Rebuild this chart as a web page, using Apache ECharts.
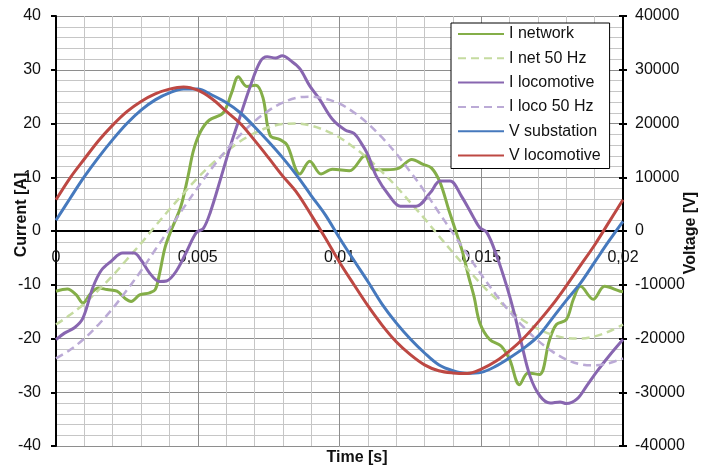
<!DOCTYPE html>
<html>
<head>
<meta charset="utf-8">
<script src="https://cdn.jsdelivr.net/npm/echarts@6/dist/echarts.min.js"></script>
<style>
  html, body { margin: 0; padding: 0; background: #fff; }
  #chart { width: 710px; height: 470px; }
</style>
</head>
<body>
<div id="chart"></div>
<script>
// Time base (ms) shared by the voltage traces and the 50 Hz fundamentals
const tGridMs = [0, 0.5, 1, 1.5, 2, 2.5, 3, 3.5, 4, 4.5, 5, 5.5, 6, 6.5, 7, 7.5, 8, 8.5, 9, 9.5,
  10, 10.5, 11, 11.5, 12, 12.5, 13, 13.5, 14, 14.5, 15, 15.5, 16, 16.5, 17, 17.5, 18, 18.5, 19, 19.5, 20];

// Substation voltage [V]
const vSubstation = [2000, 6100, 10100, 13700, 17000, 20000, 22500, 24400, 25700, 26400,
  26400, 25300, 23900, 22000, 19400, 16600, 13600, 10300, 6600, 3000,
  -1300, -5400, -9400, -13600, -17100, -20100, -22700, -24900, -26000, -26500,
  -26300, -25200, -23600, -21800, -19600, -16300, -12900, -9700, -5800, -1900, 1800];

// Locomotive voltage [V]
const vLocomotive = [5800, 9900, 13400, 16800, 19700, 22200, 24100, 25500, 26400, 26800,
  26200, 24600, 22300, 20000, 16900, 13600, 10200, 7100, 3000, -1300,
  -5800, -9900, -13900, -17500, -20600, -23000, -24900, -26000, -26400, -26500,
  -25700, -24300, -22300, -19900, -17000, -13800, -10200, -6400, -2600, 1600, 5800];

// 50 Hz fundamental of the network current [A]
const iNet50 = [-17.4, -15.6, -13.5, -11.0, -8.3, -5.3, -2.3, 0.9, 4.0, 7.0,
  9.9, 12.5, 14.7, 16.7, 18.2, 19.3, 19.9, 20.0, 19.6, 18.7,
  17.4, 15.6, 13.5, 11.0, 8.3, 5.3, 2.3, -0.9, -4.0, -7.0,
  -9.9, -12.5, -14.7, -16.7, -18.2, -19.3, -19.9, -20.0, -19.6, -18.7, -17.4];

// 50 Hz fundamental of the locomotive current [A]
const iLoco50 = [-23.7, -22.1, -20.0, -17.4, -14.4, -11.0, -7.4, -3.5, 0.4, 4.3,
  8.1, 11.7, 15.0, 17.9, 20.4, 22.4, 23.9, 24.8, 25.0, 24.6,
  23.7, 22.1, 20.0, 17.4, 14.4, 11.0, 7.4, 3.5, -0.4, -4.3,
  -8.1, -11.7, -15.0, -17.9, -20.4, -22.4, -23.9, -24.8, -25.0, -24.6, -23.7];

// Network current [A], sampled where the waveform bends
const tNetworkMs = [0, 0.4, 0.7, 0.95, 1.2, 1.5, 1.8, 2.15, 2.45, 2.65,
  2.95, 3.3, 3.5, 3.65, 3.85, 4.1, 4.4, 4.65, 4.85, 5.1,
  5.4, 5.9, 6.2, 6.43, 6.73, 7.05, 7.3, 7.55, 7.9, 8.15,
  8.6, 8.95, 9.35, 9.75, 10.35, 10.9, 11.2, 11.65, 12.1, 12.55,
  12.95, 13.25, 13.55, 13.85, 14.1, 14.35, 14.55, 14.75, 14.95, 15.3,
  15.7, 16.0, 16.35, 16.65, 17.05, 17.4, 17.65, 18.0, 18.25, 18.5,
  18.95, 19.35, 19.9, 20];
const iNetwork = [-11.2, -10.8, -11.8, -13.4, -11.8, -10.6, -10.9, -11.2, -12.6, -13.1,
  -11.9, -11.5, -10.9, -8.0, -3.0, 0.6, 4.5, 10.0, 15.0, 18.5,
  20.6, 22.0, 25.8, 28.7, 26.9, 27.1, 24.8, 17.8, 17.0, 16.0,
  10.6, 13.0, 10.6, 11.5, 11.2, 14.0, 11.4, 11.4, 11.7, 13.3,
  12.4, 11.7, 9.0, 4.0, 0.0, -4.1, -8.4, -12.3, -17.1, -20.2,
  -21.4, -23.9, -28.6, -26.4, -26.7, -20.4, -17.4, -16.5, -12.7, -10.3,
  -12.7, -10.3, -11.2, -11.3];

// Locomotive current [A]
const tLocoMs = [0, 0.3, 0.65, 0.95, 1.3, 1.6, 1.95, 2.35, 2.75, 3.0,
  3.3, 3.65, 3.9, 4.25, 4.6, 4.95, 5.2, 5.45, 5.8, 6.15,
  6.5, 6.85, 7.2, 7.45, 7.75, 7.98, 8.3, 8.6, 8.95, 9.3,
  9.75, 10.2, 10.5, 10.75, 11.0, 11.3, 11.75, 12.15, 12.7, 13.2,
  13.55, 13.9, 14.3, 14.7, 14.95, 15.2, 15.55, 15.9, 16.15, 16.4,
  16.72, 17.07, 17.43, 17.78, 18.0, 18.37, 18.72, 19.07, 19.5, 20];
const iLocomotive = [-20.2, -19.0, -18.0, -16.2, -10.5, -7.3, -5.6, -4.1, -4.1, -5.4,
  -7.8, -9.4, -9.3, -7.4, -3.9, -0.3, 0.5, 3.6, 9.6, 15.8,
  21.4, 26.9, 31.5, 32.4, 32.2, 32.6, 31.6, 30.2, 27.0, 24.5,
  20.8, 18.8, 18.2, 16.5, 14.2, 10.2, 6.6, 4.6, 4.6, 7.1,
  9.3, 9.3, 6.5, 2.8, 0.6, -0.3, -4.7, -10.3, -15.0, -20.5,
  -27.0, -30.7, -32.0, -31.8, -32.1, -31.3, -28.8, -26.2, -23.3, -20.2];

const FONT = '"Liberation Sans", Arial, sans-serif';
const TEXT = '#111';

// plot box in pixels
const PLOT_TOP = 16, PLOT_BOTTOM = 24, CHART_H = 470;
const PLOT_H = CHART_H - PLOT_TOP - PLOT_BOTTOM;

function pairs(tMs, values) {
  return tMs.map((t, i) => [t / 1000, values[i]]);
}

function timeLabel(v) {
  return String(+v.toFixed(3)).replace('.', ',');
}

const chart = echarts.init(document.getElementById('chart'), null, { renderer: 'canvas' });

const majorGrid = { color: '#8e8e8e', width: 1 };
const minorGrid = { color: '#c6c6c6', width: 1 };

chart.setOption({
  animation: false,
  backgroundColor: '#fff',
  grid: { left: 56, right: 87, top: PLOT_TOP, bottom: PLOT_BOTTOM, containLabel: false, outerBoundsMode: 'none' },
  xAxis: {
    type: 'value',
    min: 0, max: 0.02, interval: 0.005,
    // time axis sits on the zero current line (middle of the -40..40 range)
    offset: -PLOT_H / 2,
    axisLine: { onZero: false, lineStyle: { color: '#000', width: 2 } },
    axisTick: { show: false },
    axisLabel: {
      margin: 19, fontFamily: FONT, fontSize: 16, color: TEXT,
      showMinLabel: true, showMaxLabel: true, formatter: timeLabel
    },
    splitLine: { show: true, lineStyle: majorGrid },
    minorTick: { show: false, splitNumber: 5 },
    minorSplitLine: { show: true, lineStyle: minorGrid }
  },
  yAxis: [
    {
      type: 'value', position: 'left',
      min: -40, max: 40, interval: 10,
      axisLine: { show: true, lineStyle: { color: '#000', width: 2 } },
      axisTick: { show: true, length: 5, lineStyle: { color: '#000', width: 2 } },
      axisLabel: { margin: 15, fontFamily: FONT, fontSize: 16, color: TEXT },
      splitLine: { show: true, lineStyle: majorGrid },
      minorTick: { show: false, splitNumber: 5 },
      minorSplitLine: { show: true, lineStyle: minorGrid }
    },
    {
      type: 'value', position: 'right',
      min: -40000, max: 40000, interval: 10000,
      axisLine: { show: true, lineStyle: { color: '#000', width: 2 } },
      axisTick: { show: true, length: 4, lineStyle: { color: '#000', width: 2 } },
      axisLabel: { margin: 12, fontFamily: FONT, fontSize: 16, color: TEXT, formatter: v => String(v) },
      splitLine: { show: false }
    },
    {
      // inner half of the crossing ticks on the voltage axis
      type: 'value', position: 'right',
      min: -40000, max: 40000, interval: 10000,
      axisLine: { show: false },
      axisTick: { show: true, inside: true, length: 4, lineStyle: { color: '#000', width: 2 } },
      axisLabel: { show: false },
      splitLine: { show: false }
    }
  ],
  legend: {
    orient: 'vertical',
    left: 451, top: 23,
    padding: [2, 9, 4, 6],
    itemWidth: 46, itemHeight: 18, itemGap: 6.3,
    backgroundColor: '#fff', borderColor: '#000', borderWidth: 1,
    itemStyle: { opacity: 0 },
    textStyle: { fontFamily: FONT, fontSize: 16, color: TEXT, lineHeight: 18 },
    data: ['I network', 'I net 50 Hz', 'I locomotive', 'I loco 50 Hz', 'V substation', 'V locomotive']
  },
  graphic: [
    {
      type: 'text', x: 22, y: 215, rotation: Math.PI / 2,
      style: { text: 'Current [A]', font: 'bold 16px ' + FONT, fill: TEXT, align: 'center', verticalAlign: 'middle' }
    },
    {
      type: 'text', x: 691, y: 233, rotation: Math.PI / 2,
      style: { text: 'Voltage [V]', font: 'bold 16px ' + FONT, fill: TEXT, align: 'center', verticalAlign: 'middle' }
    },
    {
      type: 'text', x: 357, y: 458,
      style: { text: 'Time [s]', font: 'bold 16px ' + FONT, fill: TEXT, align: 'center', verticalAlign: 'middle' }
    }
  ],
  series: [
    {
      name: 'I network', type: 'line', yAxisIndex: 0, symbol: 'none', smooth: 0.35,
      data: pairs(tNetworkMs, iNetwork),
      lineStyle: { color: '#84ae48', width: 3 }, itemStyle: { color: '#84ae48' }
    },
    {
      name: 'I net 50 Hz', type: 'line', yAxisIndex: 0, symbol: 'none', smooth: 0.35,
      data: pairs(tGridMs, iNet50),
      lineStyle: { color: '#c5dba0', width: 2.5, type: [8, 5] }, itemStyle: { color: '#c5dba0' }
    },
    {
      name: 'I locomotive', type: 'line', yAxisIndex: 0, symbol: 'none', smooth: 0.35,
      data: pairs(tLocoMs, iLocomotive),
      lineStyle: { color: '#8866b0', width: 3 }, itemStyle: { color: '#8866b0' }
    },
    {
      name: 'I loco 50 Hz', type: 'line', yAxisIndex: 0, symbol: 'none', smooth: 0.35,
      data: pairs(tGridMs, iLoco50),
      lineStyle: { color: '#bbaad6', width: 2.5, type: [8, 5] }, itemStyle: { color: '#bbaad6' }
    },
    {
      name: 'V substation', type: 'line', yAxisIndex: 1, symbol: 'none', smooth: 0.35,
      data: pairs(tGridMs, vSubstation),
      lineStyle: { color: '#4679bd', width: 3 }, itemStyle: { color: '#4679bd' }
    },
    {
      name: 'V locomotive', type: 'line', yAxisIndex: 1, symbol: 'none', smooth: 0.35,
      data: pairs(tGridMs, vLocomotive),
      lineStyle: { color: '#bd4843', width: 3 }, itemStyle: { color: '#bd4843' }
    }
  ]
});
</script>
</body>
</html>
